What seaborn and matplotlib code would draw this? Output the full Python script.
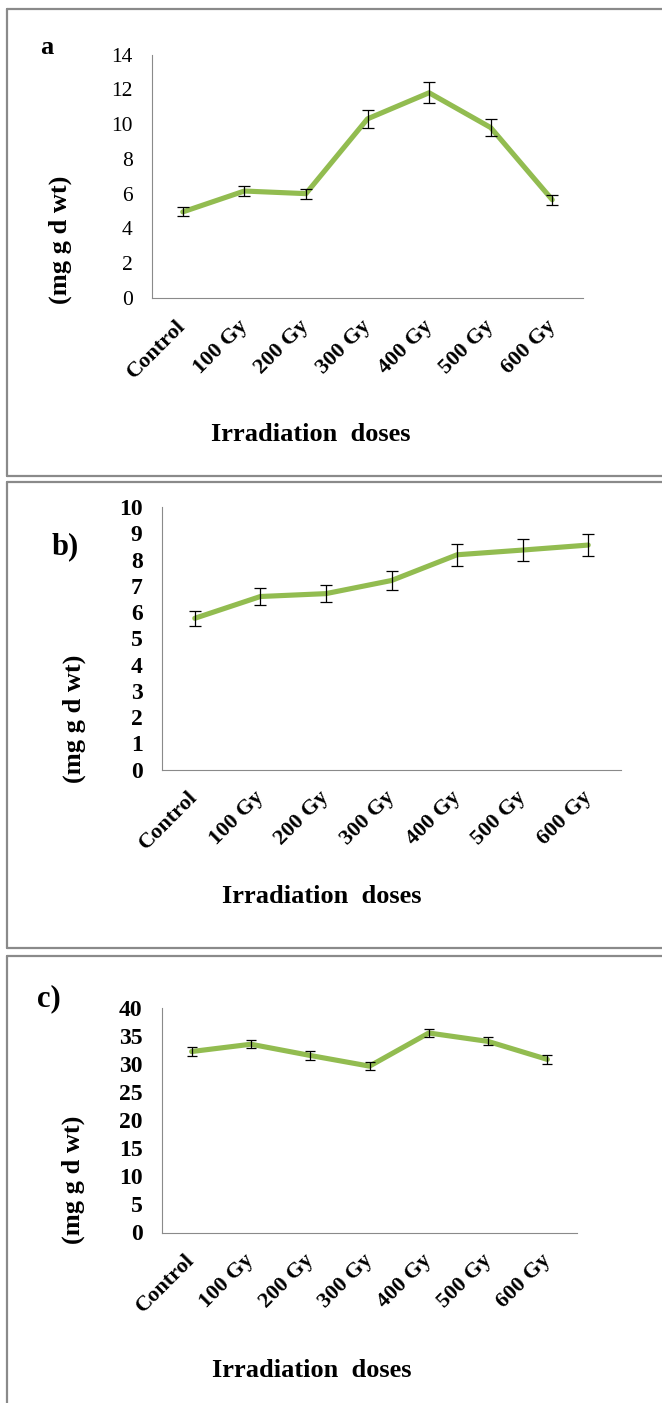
import numpy as np
import matplotlib
matplotlib.use("Agg")
import matplotlib.pyplot as plt
from matplotlib.lines import Line2D
import seaborn as sns

# ---- data ----
categories = ["Control", "100 Gy", "200 Gy", "300 Gy", "400 Gy", "500 Gy", "600 Gy"]

values_a = [4.95, 6.15, 6.0, 10.3, 11.8, 9.8, 5.65]
errors_a = [0.26, 0.29, 0.28, 0.5, 0.6, 0.5, 0.28]

values_b = [5.76, 6.59, 6.7, 7.2, 8.18, 8.36, 8.55]
errors_b = [0.29, 0.31, 0.31, 0.35, 0.41, 0.41, 0.43]

values_c = [32.2, 33.5, 31.5, 29.6, 35.5, 34.0, 30.8]
errors_c = [0.77, 0.75, 0.8, 0.77, 0.77, 0.7, 0.8]

panel_labels = ["a", "b)", "c)"]
ylabel_text = "(mg g d wt)"
xlabel_text = "Irradiation  doses"

sns.set_theme(style="white")
plt.rcParams["font.family"] = ["Liberation Serif", "DejaVu Serif"]
plt.rcParams["text.color"] = "black"
plt.rcParams["axes.labelcolor"] = "black"
plt.rcParams["xtick.color"] = "black"
plt.rcParams["ytick.color"] = "black"

W, H = 662, 1403
fig = plt.figure(figsize=(W / 100, H / 100), dpi=100)

GREEN = "#92BC50"
GRAY = "#8a8a8a"


def px_axes(left, right, top, bottom):
    return fig.add_axes([left / W, 1 - bottom / H, (right - left) / W, (bottom - top) / H])


def frame(top, bottom):
    # gray panel frame (left, top, bottom edges)
    kw = dict(color=GRAY, lw=1.6, transform=fig.transFigure)
    x0 = 6.5 / W
    fig.add_artist(Line2D([x0, 1.0], [1 - top / H, 1 - top / H], **kw))
    if bottom is not None:
        fig.add_artist(Line2D([x0, 1.0], [1 - bottom / H, 1 - bottom / H], **kw))
    yb = 0.0 if bottom is None else 1 - bottom / H
    fig.add_artist(Line2D([x0, x0], [yb, 1 - top / H], **kw))


frame(9, 476)
frame(482, 948)
frame(956, None)

specs = [
    dict(vals=values_a, errs=errors_a, box=(152, 583, 54.5, 298), ymax=14, step=2,
         tickbold=False, tickfs=15.5, ylab=(-0.2135, 0.238), xlab=(0.369, -0.561),
         letter=(46.5, 48, 19), capsize=4.3),
    dict(vals=values_b, errs=errors_b, box=(162, 621, 507, 769.5), ymax=10, step=1,
         tickbold=True, tickfs=17, ylab=(-0.1906, 0.194), xlab=(0.3486, -0.483),
         letter=(65.5, 546.5, 22), capsize=4.3),
    dict(vals=values_c, errs=errors_c, box=(162, 577, 1007.7, 1232.5), ymax=40, step=5,
         tickbold=True, tickfs=17, ylab=(-0.2133, 0.2335), xlab=(0.361, -0.612),
         letter=(48.5, 999, 22), capsize=3.6),
]

for spec, lab in zip(specs, panel_labels):
    ax = px_axes(*spec["box"])
    sns.lineplot(x=categories, y=spec["vals"], ax=ax, color=GREEN, lw=3.7, sort=False,
                 solid_joinstyle="round", solid_capstyle="round", zorder=2)
    ax.errorbar(categories, spec["vals"], yerr=spec["errs"], fmt="none", ecolor="black",
                elinewidth=0.9, capsize=spec["capsize"], capthick=0.9, zorder=3)
    ax.set_xlim(-0.5, 6.5)
    ax.set_ylim(0, spec["ymax"])
    yt = np.arange(0, spec["ymax"] + 0.01, spec["step"])
    ax.set_yticks(yt)
    ax.set_yticklabels([f"{int(v)}" for v in yt], fontsize=spec["tickfs"],
                       fontweight="bold" if spec["tickbold"] else "normal")
    ax.set_xticks(range(len(categories)))
    ax.set_xticklabels(categories, rotation=45, ha="right", va="center",
                       rotation_mode="anchor", fontsize=16, fontweight="bold")
    ax.set_xticks(np.arange(-0.5, len(categories), 1.0), minor=True)
    ax.tick_params(axis="x", which="major", length=0, pad=18)
    ax.tick_params(axis="x", which="minor", length=6, width=0.8, color=GRAY, direction="out")
    ax.tick_params(axis="y", which="major", length=6, width=0.8, color=GRAY,
                   direction="out", pad=8, labelcolor="black")
    for s in ["top", "right"]:
        ax.spines[s].set_visible(False)
    for s in ["left", "bottom"]:
        ax.spines[s].set_color(GRAY)
        ax.spines[s].set_linewidth(0.8)
    ax.set_ylabel(ylabel_text, fontsize=19, fontweight="bold", va="center")
    ax.yaxis.set_label_coords(*spec["ylab"])
    ax.set_xlabel(xlabel_text, fontsize=19, fontweight="bold", va="center")
    ax.xaxis.set_label_coords(*spec["xlab"])
    ax.set_facecolor("white")
    lx, ly, lfs = spec["letter"]
    fig.text(lx / W, 1 - ly / H, lab, fontsize=lfs, fontweight="bold",
             ha="center", va="center")

fig.savefig("out.png", dpi=100, facecolor="white")
